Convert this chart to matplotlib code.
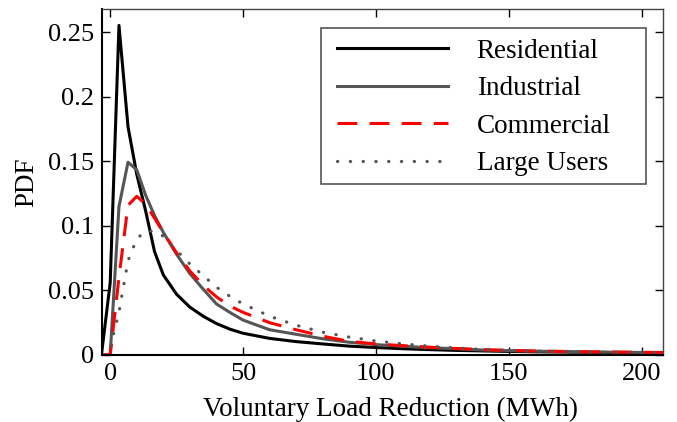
import numpy as np
import matplotlib
matplotlib.use("Agg")
import matplotlib.pyplot as plt
from matplotlib.patches import Rectangle


x = [-3.3, 0, 3.3, 6.7, 10, 13.3, 16.7, 20, 25, 30, 35, 40, 45, 50, 60, 70,
     80, 90, 100, 110, 120, 130, 140, 150, 160, 170, 180, 190, 200, 208]

residential = [0, 0.056, 0.2555, 0.177, 0.14, 0.112, 0.08, 0.062, 0.047, 0.037,
               0.030, 0.0243, 0.020, 0.0168, 0.0128, 0.0103, 0.0085, 0.0068,
               0.0057, 0.0048, 0.0041, 0.0035, 0.0031, 0.0027, 0.0024, 0.0022,
               0.0020, 0.0018, 0.0017, 0.0016]
industrial = [0, 0, 0.115, 0.1494, 0.1435, 0.124, 0.108, 0.095, 0.078, 0.063,
              0.051, 0.0395, 0.033, 0.027, 0.0195, 0.016, 0.0125, 0.0098,
              0.0080, 0.0067, 0.0056, 0.0048, 0.0038, 0.0033, 0.0029, 0.0026,
              0.0023, 0.0021, 0.0019, 0.0018]
commercial = [0, 0, 0.06, 0.116, 0.123, 0.117, 0.106, 0.095, 0.079, 0.065,
              0.054, 0.045, 0.038, 0.033, 0.025, 0.0195, 0.0145, 0.0105,
              0.0085, 0.0072, 0.0060, 0.0050, 0.0041, 0.0035, 0.0030, 0.0027,
              0.0024, 0.0022, 0.0020, 0.0019]
large_users = [0, 0.006, 0.033, 0.073, 0.09, 0.096, 0.096, 0.092, 0.081, 0.0705,
               0.0615, 0.0525, 0.0455, 0.0395, 0.030, 0.023, 0.0176, 0.0138,
               0.0108, 0.0086, 0.0068, 0.0054, 0.0043, 0.0036, 0.0030, 0.0026,
               0.0023, 0.0021, 0.0020, 0.0019]

xticks = [0, 50, 100, 150, 200]
yticks = [0, 0.05, 0.1, 0.15, 0.2, 0.25]
ytick_labels = ["0", "0.05", "0.1", "0.15", "0.2", "0.25"]

plt.rcParams["font.family"] = ["Liberation Serif", "DejaVu Serif"]

fig = plt.figure(figsize=(6.77, 4.22), dpi=100)
ax = fig.add_axes([0.151, 0.159, 0.828, 0.819])

ax.plot(x, residential, color="black", lw=2.2, label="Residential")
ax.plot(x, industrial, color="#555555", lw=2.2, label="Industrial")
ax.plot(x, commercial, color="red", lw=2.2, dashes=(6.5, 4), label="Commercial")
ax.plot(x, large_users, color="#555555", lw=2.3, linestyle=(0, (0.1, 3.9)),
        dash_capstyle="round", label="Large Users")

ax.set_xlim(-3, 208)
ax.set_ylim(0, 0.268)
ax.set_xticks(xticks)
ax.set_yticks(yticks)
ax.set_yticklabels(ytick_labels)
ax.tick_params(direction="in", top=True, right=True, length=6, width=1,
               labelsize=19, pad=6)

for side in ["left", "bottom"]:
    ax.spines[side].set_color("black")
    ax.spines[side].set_linewidth(1.5)
for side in ["top", "right"]:
    ax.spines[side].set_color("#444444")
    ax.spines[side].set_linewidth(1.0)

ax.set_xlabel("Voluntary Load Reduction (MWh)", fontsize=19.5, labelpad=6)
ax.xaxis.set_label_coords(0.515, -0.12)
ax.set_ylabel("PDF", fontsize=19.5, labelpad=6)

# legend box is wider than its contents, so the frame is drawn separately
ax.add_patch(Rectangle((0.390, 0.494), 0.580, 0.451, transform=ax.transAxes,
                       facecolor="white", edgecolor="#555555", lw=1.2, zorder=4))
leg = ax.legend(loc="center left", bbox_to_anchor=(0.419, 0.716), fontsize=19.5,
                handlelength=4.1, handletextpad=1.05, labelspacing=0.46,
                borderpad=0, borderaxespad=0, frameon=False)
leg.set_zorder(5)

fig.savefig("out.png", dpi=100)
